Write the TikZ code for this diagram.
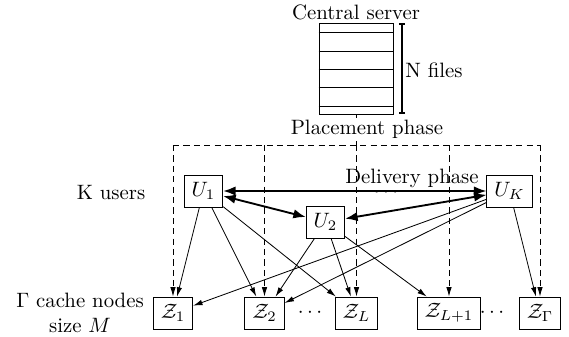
\documentclass[tikz,border=0pt]{standalone}
\usetikzlibrary{arrows.meta}
\begin{document}
\begin{tikzpicture}[x=0.4808pt,y=-0.4808pt,
  box/.style={draw, minimum height=15.4pt, inner xsep=3.6pt, inner ysep=2pt},
  thk/.style={line width=0.9pt, {Latex[length=6pt,width=4.5pt]}-{Latex[length=6pt,width=4.5pt]}},
  thinarr/.style={-{Latex[length=4.5pt,width=2.6pt]}},
  dsh/.style={dash pattern=on 3pt off 2pt},
  lbl/.style={inner sep=1pt}]
\useasboundingbox (0,0) rectangle (569,336);

% central server
\node[draw, minimum width=35.6pt, minimum height=43.8pt, inner sep=0pt] (server) at (356,68.5) {};
\foreach \yy in {32,51,69,87,106}{
  \draw (server.west |- 0,\yy) -- (server.east |- 0,\yy);
}
\node[lbl] (cs) at (356,12) {Central server};
\coordinate (nt) at (402,23);
\coordinate (nb) at (402,114);
\draw[line width=0.9pt, {Bar[width=3pt]}-{Bar[width=3pt]}] (nt) -- (nb);
\node[lbl] (nf) at (434,70) {N files};

% placement
\coordinate (pc) at (356,145);
\draw (server.south) -- (pc);
\node[lbl, fill=white] (place) at (367,129.5) {Placement phase};

% users
\node[box] (U1) at (203.5,191) {$U_1$};
\node[box] (U2) at (325.5,222) {$U_2$};
\node[box] (UK) at (509.5,191) {$U_K$};

% cache nodes
\node[box] (Z1) at (173,313) {$\mathcal{Z}_1$};
\node[box] (Z2) at (264.5,313) {$\mathcal{Z}_2$};
\node[box] (ZL) at (356.5,313) {$\mathcal{Z}_L$};
\node[box] (ZL1) at (449,313) {$\mathcal{Z}_{L+1}$};
\node[box] (ZG) at (540,313) {$\mathcal{Z}_\Gamma$};
\node[lbl] (zd1) at (310,313) {$\cdots$};
\node[lbl] (zd2) at (492,313) {$\cdots$};

% labels
\node[lbl] (ku) at (111,193) {K users};
\node[lbl, align=center] (gc) at (80,313) {$\Gamma$ cache nodes\\ size $M$};

% dashed placement lines
\coordinate (d1) at (173,145);
\coordinate (d2) at (264.5,145);
\coordinate (d3) at (356.5,145);
\coordinate (d4) at (449,145);
\coordinate (d5) at (540,145);
\draw[dsh] (d1) -- (d5);
\draw[dsh, thinarr] (d1) -- (Z1.north);
\draw[dsh, thinarr] (d2) -- (Z2.north);
\draw[dsh, thinarr] (d3) -- (ZL.north);
\draw[dsh, thinarr] (d4) -- (ZL1.north);
\draw[dsh, thinarr] (d5) -- (ZG.north);

% delivery
\node[inner sep=0pt] (dp) at (412,178) {Delivery phase};
\node[inner sep=0pt, anchor=base, text=gray] (ud) at (386,197.5) {$\cdots$};
\draw[thk] (U1) -- (UK);
\draw[thk] (U1) -- (U2);
\draw[thk] (U2) -- (UK);

\draw[thinarr] (U1) -- (Z1);
\draw[thinarr] (U1) -- (Z2);
\draw[thinarr] (U1) -- (ZL);
\draw[thinarr] (U2) -- (Z2);
\draw[thinarr] (U2) -- (ZL);
\draw[thinarr] (U2) -- (ZL1);
\draw[thinarr] (UK) -- (Z1);
\draw[thinarr] (UK) -- (Z2);
\draw[thinarr] (UK) -- (ZG);
\end{tikzpicture}
\end{document}
